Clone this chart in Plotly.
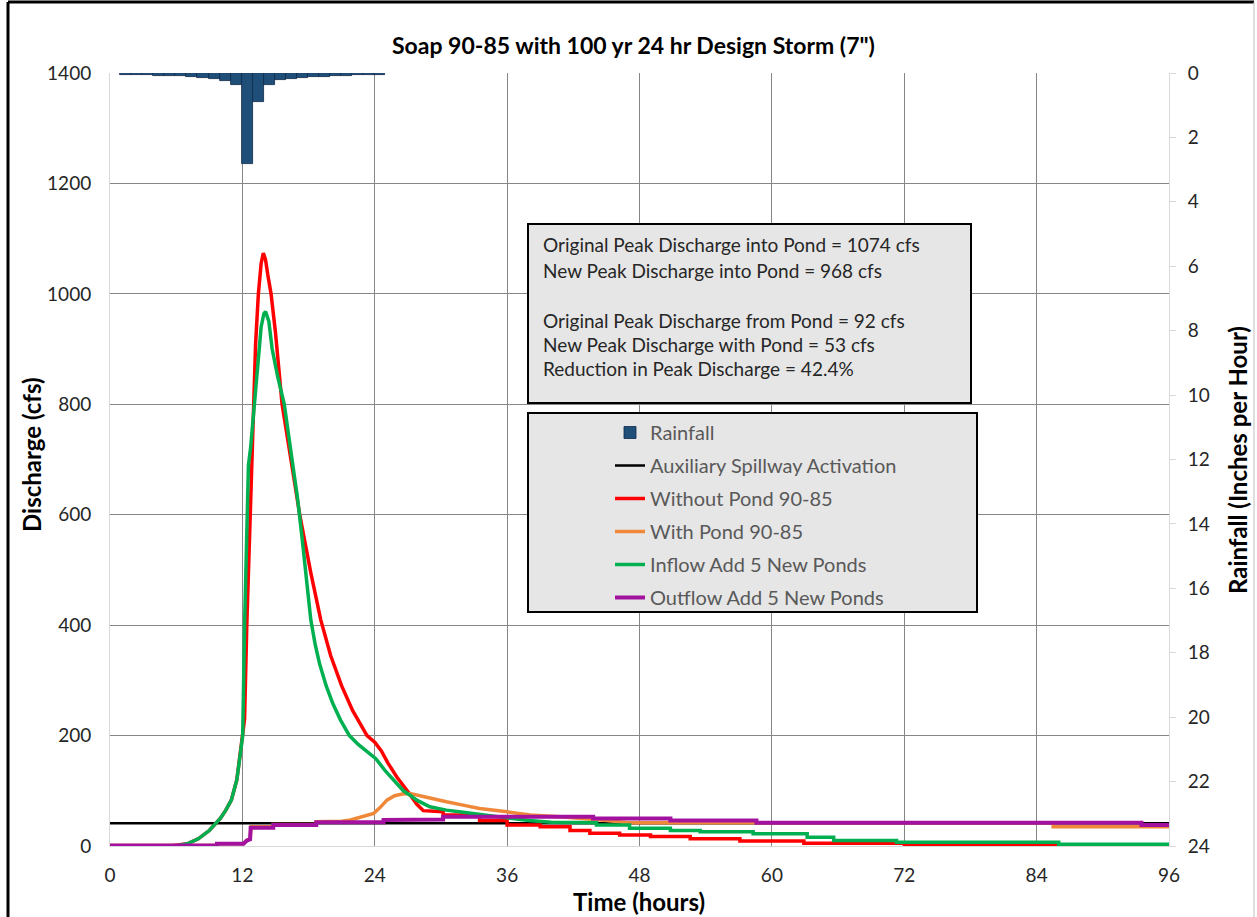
import plotly.graph_objects as go

# ---------------- data ----------------
rain_hour = list(range(1, 25))
rain_in_hr = [0.07, 0.07, 0.07, 0.10, 0.10, 0.10, 0.13, 0.15, 0.20, 0.26, 0.37, 2.84,
              0.89, 0.36, 0.22, 0.18, 0.14, 0.13, 0.12, 0.09, 0.08, 0.07, 0.07, 0.07]

spill_t = [0, 96]
spill_q = [41, 41]

red_t = [0, 5.5, 7, 8, 9, 10, 10.5, 11, 11.5, 11.8, 12.0, 12.2, 12.4, 12.7, 13.0, 13.2, 13.45,
         13.7, 13.9, 14.1, 14.3, 14.6, 15.0, 15.6, 16.4, 17.2, 18.2, 19.1, 20.0, 21.0, 22.0, 23.3,
         24.0, 24.6, 25.2, 26.0, 27.2, 27.8, 28.4, 30.2, 30.2, 33.5, 33.5, 36, 36, 39, 39, 41.7,
         41.7, 43.5, 43.5, 46.2, 46.2, 49, 49, 52.6, 52.6, 57.1, 57.1, 62.9, 62.9, 72, 72, 96]
red_q = [0, 0, 4, 13, 28, 50, 65, 83, 120, 165, 195, 230, 400, 600, 800, 910, 1000,
         1055, 1074, 1062, 1035, 1000, 930, 800, 700, 600, 495, 410, 345, 290, 245, 200,
         188, 172, 150, 125, 93, 76, 64, 62, 56, 56, 46, 46, 38, 38, 35, 35,
         28, 28, 23, 23, 20, 20, 17, 17, 13, 13, 9, 9, 5, 5, 1, 1]

orange_t = [0, 9.7, 9.7, 12.1, 12.4, 12.7, 12.8, 14.8, 14.8, 18.7, 18.7, 21.0, 21.8, 22.8, 23.9,
            24.5, 25.1, 25.8, 26.5, 27.2, 27.8, 29.0, 30.5, 32.0, 33.5, 36, 38.1, 40.8, 43, 45,
            47, 85.5, 85.5, 96]
orange_q = [1, 1, 4, 4, 10, 14, 35, 35, 39, 39, 44, 45, 47, 52, 59,
            70, 83, 91, 94, 95, 92, 86, 80, 74, 68, 62, 56, 53, 50, 46,
            42, 42, 35, 35]

green_t = [0, 6, 7, 8, 9, 10, 10.5, 11, 11.5, 11.8, 12.03, 12.2, 12.4, 12.55, 12.75, 13.1, 13.4,
           13.7, 13.95, 14.1, 14.4, 14.7, 15.2, 15.8, 16.5, 17.0, 17.4, 17.8, 18.2, 18.6, 19.0,
           19.6, 20.2, 20.9, 21.7, 22.5, 23.2, 24.1, 25.0, 26.0, 26.6, 27.2, 27.8, 29, 30.5, 32,
           33.5, 36, 38, 40,
           44.1, 44.1, 47.1, 47.1, 50.8, 50.8, 53.5, 53.5, 58.3, 58.3, 63.2, 63.2, 65.6, 65.6,
           71.3, 71.3, 86, 86, 96]
green_q = [0, 0, 4, 13, 28, 50, 65, 83, 120, 170, 200, 400, 600, 690, 722, 800, 880,
           940, 964, 968, 950, 900, 850, 800, 700, 630, 560, 480, 410, 365, 330,
           290, 258, 228, 200, 184, 172, 158, 135, 112, 100, 92, 83, 71, 65, 61,
           57, 51, 46, 43,
           42, 38, 38, 32, 32, 28, 28, 26, 26, 22, 22, 16, 16, 10,
           10, 7, 7, 3, 3]

purple_t = [0, 9.7, 9.7, 12.1, 12.4, 12.7, 12.75, 14.8, 14.8, 18.7, 18.7, 24.8, 24.8, 27, 27,
            30.2, 30.2, 43.8, 43.8, 50.8, 50.8, 58.6, 58.6, 93.5, 93.5, 96]
purple_q = [1, 1, 4, 4, 10, 12, 33, 33, 38, 38, 43, 43, 47, 47, 48,
            48, 53, 53, 50, 50, 46, 46, 42, 42, 38, 38]

x_ticks = [0, 12, 24, 36, 48, 60, 72, 84, 96]
y_ticks = [0, 200, 400, 600, 800, 1000, 1200, 1400]
y2_ticks = list(range(0, 26, 2))

note_lines = [
    "Original Peak Discharge into Pond = 1074 cfs",
    "New Peak Discharge into Pond = 968 cfs",
    "",
    "Original Peak Discharge from Pond = 92 cfs",
    "New Peak Discharge with Pond = 53 cfs",
    "Reduction in Peak Discharge = 42.4%",
]

# ---------------- layout helpers (pixel -> paper) ----------------
W, H = 1257, 917
L, R, T, B = 110, 1169, 73, 846


def px(x):
    return (x - L) / (R - L)


def py(y):
    return (B - y) / (B - T)


FONT = "Lato"
fig = go.Figure()

fig.add_trace(go.Bar(
    x=rain_hour, y=rain_in_hr, yaxis="y2", name="Rainfall",
    width=1.0, offset=-0.07,
    marker=dict(color="#1F4E79", line=dict(color="#0E2A47", width=0.8)),
    legendgroup="a",
))
line_specs = [
    ("Auxiliary Spillway Activation", spill_t, spill_q, "#000000", 2.5, "b"),
    ("Without Pond 90-85", red_t, red_q, "#FF0000", 3.5, "c"),
    ("With Pond 90-85", orange_t, orange_q, "#F0883A", 3.5, "d"),
    ("Inflow Add 5 New Ponds", green_t, green_q, "#00B050", 3.5, "e"),
    ("Outflow Add 5 New Ponds", purple_t, purple_q, "#A3129F", 4, "f"),
]
for name, t, q, c, w, g in line_specs:
    fig.add_trace(go.Scatter(x=t, y=q, mode="lines", name=name,
                             line=dict(color=c, width=w), legendgroup=g))

shapes = []
# annotation box
shapes.append(dict(type="rect", xref="paper", yref="paper", layer="above",
                   x0=px(528), x1=px(971), y0=py(403), y1=py(224),
                   fillcolor="#E6E6E6", line=dict(color="#000000", width=2)))
# legend box
shapes.append(dict(type="rect", xref="paper", yref="paper", layer="above",
                   x0=px(528), x1=px(977), y0=py(612), y1=py(413),
                   fillcolor="#E6E6E6", line=dict(color="#000000", width=2)))
# outer chart frame
shapes.append(dict(type="line", xref="paper", yref="paper", x0=px(8), x1=px(8),
                   y0=py(2), y1=py(917), line=dict(color="#000000", width=3)))
shapes.append(dict(type="line", xref="paper", yref="paper", x0=px(8), x1=px(1254),
                   y0=py(2), y1=py(2), line=dict(color="#000000", width=3)))
shapes.append(dict(type="line", xref="paper", yref="paper", x0=px(1254), x1=px(1254),
                   y0=py(2), y1=py(917), line=dict(color="#BFBFBF", width=1)))

annotations = []
line_y = [245, 270, 295, 320, 344, 368]
for txt, yy in zip(note_lines, line_y):
    if not txt:
        continue
    annotations.append(dict(text=txt, xref="paper", yref="paper", x=px(541), y=py(yy),
                            xanchor="left", yanchor="middle", showarrow=False,
                            font=dict(family=FONT, size=19, color="#262626")))
annotations.append(dict(text="<b>Soap 90-85 with 100 yr 24 hr Design Storm (7\")</b>",
                        xref="paper", yref="paper", x=px(633), y=py(45),
                        xanchor="center", yanchor="middle", showarrow=False,
                        font=dict(family=FONT, size=23, color="#000000")))
annotations.append(dict(text="<b>Time (hours)</b>", xref="paper", yref="paper",
                        x=px(639), y=py(901), xanchor="center", yanchor="middle",
                        showarrow=False, font=dict(family=FONT, size=24, color="#000000")))
annotations.append(dict(text="<b>Discharge (cfs)</b>", xref="paper", yref="paper",
                        x=px(31), y=py(455), xanchor="center", yanchor="middle", textangle=-90,
                        showarrow=False, font=dict(family=FONT, size=24, color="#000000")))
annotations.append(dict(text="<b>Rainfall (Inches per Hour)</b>", xref="paper", yref="paper",
                        x=px(1237), y=py(460), xanchor="center", yanchor="middle", textangle=-90,
                        showarrow=False, font=dict(family=FONT, size=24, color="#000000")))

fig.update_layout(
    width=W, height=H,
    margin=dict(l=L, r=W - R, t=T, b=H - B, pad=0),
    paper_bgcolor="#FFFFFF", plot_bgcolor="#FFFFFF",
    font=dict(family=FONT, size=19, color="#262626"),
    bargap=0,
    showlegend=True,
    legend=dict(x=px(610), y=py(413), xanchor="left", yanchor="top",
                bgcolor="rgba(0,0,0,0)", borderwidth=0,
                font=dict(family=FONT, size=20, color="#595959"),
                traceorder="grouped", tracegroupgap=4, itemwidth=30),
    xaxis=dict(range=[0, 96], tickvals=x_ticks, showgrid=True, gridcolor="#868686",
               gridwidth=1, zeroline=False, showline=True, linecolor="#D9D9D9", linewidth=1,
               ticks="", ticklabelstandoff=12, tickfont=dict(size=19, color="#262626")),
    yaxis=dict(range=[0, 1400], tickvals=y_ticks, showgrid=True, gridcolor="#868686",
               gridwidth=1, zeroline=False, showline=True, linecolor="#D9D9D9", linewidth=1,
               ticks="", ticklabelstandoff=14, tickfont=dict(size=19, color="#262626")),
    yaxis2=dict(range=[24, 0], tickvals=y2_ticks, overlaying="y", side="right",
                showgrid=False, zeroline=False, showline=True, linecolor="#D9D9D9", linewidth=1,
                ticks="outside", ticklen=6, tickcolor="#D9D9D9", ticklabelstandoff=8,
                tickfont=dict(size=19, color="#262626")),
    shapes=shapes,
    annotations=annotations,
)

fig.write_html("out.html")
